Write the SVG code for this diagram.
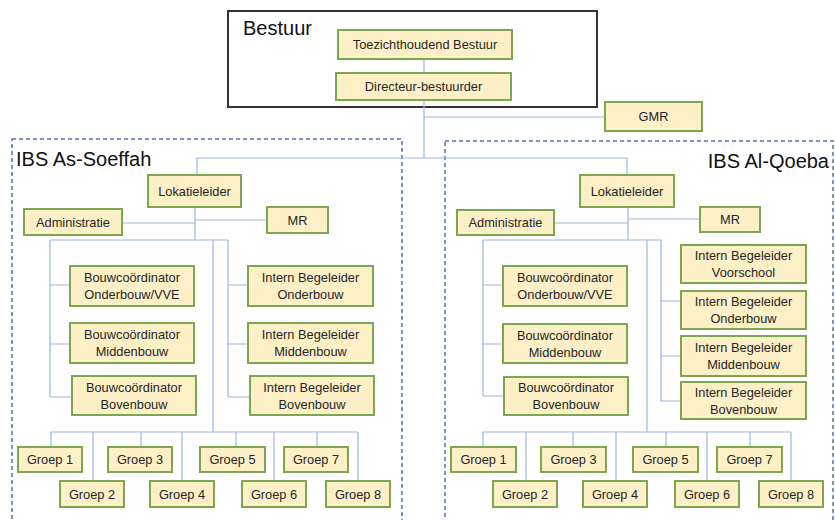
<svg xmlns="http://www.w3.org/2000/svg" width="835" height="520" viewBox="0 0 835 520">
<style>
.box{fill:#fdefc6;stroke:#7da650;stroke-width:2}
.t{font-family:"Liberation Sans",Arial,sans-serif;font-size:12.8px;fill:#262626;text-anchor:middle;dominant-baseline:central}
.big{font-family:"Liberation Sans",Arial,sans-serif;font-size:20px;fill:#111}
.c{fill:none;stroke:#9bb5e3;stroke-width:1.2}
.dash{fill:none;stroke:#4d72b8;stroke-width:1.5;stroke-dasharray:4 3}
</style>
<rect width="835" height="520" fill="#fff"/>
<g id="bestuur">
<rect x="228" y="11" width="369" height="96" fill="#fff" stroke="#333" stroke-width="2"/>
<text class="big" x="243" y="35">Bestuur</text>
</g>
<g id="as-soeffah">
<rect class="dash" x="12" y="139" width="390" height="395"/>
<text class="big" x="16" y="166">IBS As-Soeffah</text>
</g>
<g id="al-qoeba">
<rect class="dash" x="445" y="141" width="388" height="395"/>
<text class="big" x="829" y="168" text-anchor="end">IBS Al-Qoeba</text>
</g>
<g id="connectors" class="c">
<path d="M424 59V73M424 100V158M424 117H605M197 158H627M197 158V175M627 158V175"/>
<path d="M195 207V240M122 223H195M195 220H267M50 240H228M50 240V397M50 285H70M50 344H70M50 397H72M228 240V397M228 285H248M228 344H248M228 397H250M213 240V432M51 432H358M51 432V447M141 432V447M236 432V447M317 432V447M93 432V481M182 432V481M274 432V481M358 432V481"/>
<path d="M628 207V240M554 223H628M628 219H700M483 240H661M483 240V396M483 285H503M483 344H503M483 396H504M661 240V401M661 301H681M661 356H681M661 401H681M647 240V432M483 432H791M483 432V447M573 432V447M666 432V447M750 432V447M526 432V481M616 432V481M707 432V481M791 432V481"/>
</g>
<g id="toezicht"><rect class="box" x="338" y="30" width="174" height="29"/><text class="t" x="425" y="44.5">Toezichthoudend Bestuur</text></g>
<g id="directeur"><rect class="box" x="336" y="73" width="175" height="27"/><text class="t" x="423.5" y="86.5">Directeur-bestuurder</text></g>
<g id="gmr"><rect class="box" x="605" y="102" width="97" height="29"/><text class="t" x="653.5" y="116.5">GMR</text></g>

<g id="l-lokatie"><rect class="box" x="148" y="175" width="93" height="32"/><text class="t" x="194.5" y="191">Lokatieleider</text></g>
<g id="l-admin"><rect class="box" x="24" y="209" width="98" height="26"/><text class="t" x="73" y="222">Administratie</text></g>
<g id="l-mr"><rect class="box" x="267" y="207" width="61" height="26"/><text class="t" x="297.5" y="220">MR</text></g>
<g id="l-bc-onder"><rect class="box" x="70" y="266" width="124" height="40"/><text class="t" x="132" y="277.5">Bouwcoördinator</text><text class="t" x="132" y="294.5">Onderbouw/VVE</text></g>
<g id="l-bc-midden"><rect class="box" x="70" y="323" width="124" height="40"/><text class="t" x="132" y="334.5">Bouwcoördinator</text><text class="t" x="132" y="351.5">Middenbouw</text></g>
<g id="l-bc-boven"><rect class="box" x="72" y="376" width="124" height="39"/><text class="t" x="134" y="387">Bouwcoördinator</text><text class="t" x="134" y="404">Bovenbouw</text></g>
<g id="l-ib-onder"><rect class="box" x="248" y="266" width="125" height="40"/><text class="t" x="310.5" y="277.5">Intern Begeleider</text><text class="t" x="310.5" y="294.5">Onderbouw</text></g>
<g id="l-ib-midden"><rect class="box" x="248" y="323" width="125" height="40"/><text class="t" x="310.5" y="334.5">Intern Begeleider</text><text class="t" x="310.5" y="351.5">Middenbouw</text></g>
<g id="l-ib-boven"><rect class="box" x="250" y="376" width="124" height="39"/><text class="t" x="312" y="387">Intern Begeleider</text><text class="t" x="312" y="404">Bovenbouw</text></g>
<g id="l-g1"><rect class="box" x="18" y="447" width="64" height="25"/><text class="t" x="50" y="459.5">Groep 1</text></g>
<g id="l-g3"><rect class="box" x="108" y="447" width="64" height="25"/><text class="t" x="140" y="459.5">Groep 3</text></g>
<g id="l-g5"><rect class="box" x="200" y="447" width="65" height="25"/><text class="t" x="232.5" y="459.5">Groep 5</text></g>
<g id="l-g7"><rect class="box" x="284" y="447" width="64" height="25"/><text class="t" x="316" y="459.5">Groep 7</text></g>
<g id="l-g2"><rect class="box" x="60" y="481" width="64" height="26"/><text class="t" x="92" y="494">Groep 2</text></g>
<g id="l-g4"><rect class="box" x="150" y="481" width="64" height="26"/><text class="t" x="182" y="494">Groep 4</text></g>
<g id="l-g6"><rect class="box" x="242" y="481" width="64" height="26"/><text class="t" x="274" y="494">Groep 6</text></g>
<g id="l-g8"><rect class="box" x="326" y="481" width="64" height="26"/><text class="t" x="358" y="494">Groep 8</text></g>

<g id="r-lokatie"><rect class="box" x="580" y="175" width="94" height="32"/><text class="t" x="627" y="191">Lokatieleider</text></g>
<g id="r-admin"><rect class="box" x="457" y="210" width="97" height="25"/><text class="t" x="505.5" y="222.5">Administratie</text></g>
<g id="r-mr"><rect class="box" x="700" y="207" width="60" height="25"/><text class="t" x="730" y="219.5">MR</text></g>
<g id="r-bc-onder"><rect class="box" x="503" y="266" width="124" height="40"/><text class="t" x="565" y="277.5">Bouwcoördinator</text><text class="t" x="565" y="294.5">Onderbouw/VVE</text></g>
<g id="r-bc-midden"><rect class="box" x="503" y="324" width="124" height="39"/><text class="t" x="565" y="335">Bouwcoördinator</text><text class="t" x="565" y="352">Middenbouw</text></g>
<g id="r-bc-boven"><rect class="box" x="504" y="377" width="124" height="38"/><text class="t" x="566" y="387.5">Bouwcoördinator</text><text class="t" x="566" y="404.5">Bovenbouw</text></g>
<g id="r-ib-voor"><rect class="box" x="681" y="245" width="125" height="38"/><text class="t" x="743.5" y="255.5">Intern Begeleider</text><text class="t" x="743.5" y="272.5">Voorschool</text></g>
<g id="r-ib-onder"><rect class="box" x="681" y="291" width="125" height="38"/><text class="t" x="743.5" y="301.5">Intern Begeleider</text><text class="t" x="743.5" y="318.5">Onderbouw</text></g>
<g id="r-ib-midden"><rect class="box" x="681" y="336" width="125" height="40"/><text class="t" x="743.5" y="347.5">Intern Begeleider</text><text class="t" x="743.5" y="364.5">Middenbouw</text></g>
<g id="r-ib-boven"><rect class="box" x="681" y="382" width="125" height="37"/><text class="t" x="743.5" y="392">Intern Begeleider</text><text class="t" x="743.5" y="409">Bovenbouw</text></g>
<g id="r-g1"><rect class="box" x="451" y="447" width="65" height="25"/><text class="t" x="483.5" y="459.5">Groep 1</text></g>
<g id="r-g3"><rect class="box" x="541" y="447" width="65" height="25"/><text class="t" x="573.5" y="459.5">Groep 3</text></g>
<g id="r-g5"><rect class="box" x="633" y="447" width="65" height="25"/><text class="t" x="665.5" y="459.5">Groep 5</text></g>
<g id="r-g7"><rect class="box" x="717" y="447" width="65" height="25"/><text class="t" x="749.5" y="459.5">Groep 7</text></g>
<g id="r-g2"><rect class="box" x="493" y="481" width="64" height="26"/><text class="t" x="525" y="494">Groep 2</text></g>
<g id="r-g4"><rect class="box" x="583" y="481" width="64" height="26"/><text class="t" x="615" y="494">Groep 4</text></g>
<g id="r-g6"><rect class="box" x="675" y="481" width="64" height="26"/><text class="t" x="707" y="494">Groep 6</text></g>
<g id="r-g8"><rect class="box" x="759" y="481" width="64" height="26"/><text class="t" x="791" y="494">Groep 8</text></g>
</svg>
